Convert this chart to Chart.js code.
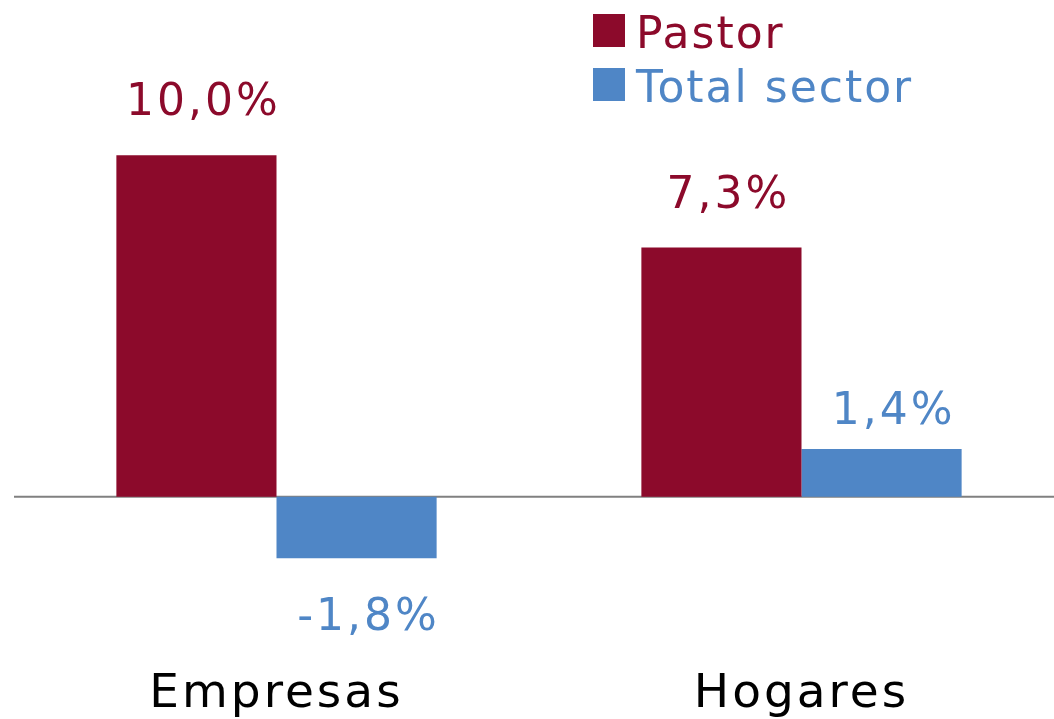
<!DOCTYPE html>
<html>
<head>
<meta charset="utf-8">
<script src="https://cdn.jsdelivr.net/npm/chart.js@4/dist/chart.umd.min.js"></script>
<style>
  html, body { margin: 0; padding: 0; background: #fff; overflow: hidden; }
  #wrap { position: relative; width: 1070px; height: 719px; }
</style>
</head>
<body>
<div id="wrap"><canvas id="myChart"></canvas></div>
<script>
const categories = ['Empresas', 'Hogares'];
const seriesNames = ['Pastor', 'Total sector'];
const pastorValues = [10.0, 7.3];
const totalValues = [-1.8, 1.4];

const colPastor = '#8C0A2B';
const colTotal = '#4F86C6';
const fontFam = '"DejaVu Sans", Verdana, sans-serif';

function fmt(v) {
  return v.toFixed(1).replace('.', ',') + '%';
}

// zero line + value labels + legend
const extras = {
  id: 'extras',
  beforeDraw(chart) {
    chart.ctx.letterSpacing = '3px';
  },
  beforeDatasetsDraw(chart) {
    const { ctx, chartArea, scales } = chart;
    const y0 = scales.y.getPixelForValue(0);
    ctx.save();
    ctx.strokeStyle = '#808080';
    ctx.lineWidth = 2;
    ctx.beginPath();
    ctx.moveTo(14, y0);
    ctx.lineTo(chartArea.right, y0);
    ctx.stroke();
    ctx.restore();
  },
  afterDatasetsDraw(chart) {
    const { ctx } = chart;
    ctx.save();
    ctx.letterSpacing = '3px';
    ctx.font = '44px ' + fontFam;
    ctx.textAlign = 'center';
    ctx.textBaseline = 'alphabetic';
    chart.data.datasets.forEach((ds, i) => {
      const meta = chart.getDatasetMeta(i);
      meta.data.forEach((bar, j) => {
        const v = ds.data[j];
        ctx.fillStyle = ds.backgroundColor;
        if (v >= 0) {
          ctx.fillText(fmt(v), bar.x + (i === 0 ? 7 : 12), bar.y - (i === 0 ? 40 : 25));
        } else {
          ctx.fillText(fmt(v), bar.x + 12, bar.y + 72);
        }
      });
    });
    // legend
    ctx.letterSpacing = '2px';
    ctx.textAlign = 'left';
    ctx.textBaseline = 'alphabetic';
    chart.data.datasets.forEach((ds, i) => {
      const top = 14 + i * 54;
      ctx.fillStyle = ds.backgroundColor;
      ctx.fillRect(593, top, 32, 33);
      ctx.fillText(ds.label, 636, top + 34);
    });
    ctx.restore();
  }
};

new Chart(document.getElementById('myChart'), {
  type: 'bar',
  data: {
    labels: categories,
    datasets: [
      { label: seriesNames[0], data: pastorValues, backgroundColor: colPastor },
      { label: seriesNames[1], data: totalValues, backgroundColor: colTotal }
    ]
  },
  options: {
    responsive: true,
    maintainAspectRatio: false,
    animation: false,
    layout: { padding: { left: 14, right: 6, top: 0, bottom: -14 } },
    datasets: { bar: { categoryPercentage: 0.61, barPercentage: 1.0 } },
    plugins: { legend: { display: false }, tooltip: { enabled: false } },
    scales: {
      x: {
        grid: { display: false, drawTicks: false },
        border: { display: false },
        ticks: { color: '#000', font: { family: fontFam, size: 47, lineHeight: 1.2 }, padding: 10 }
      },
      y: {
        display: false,
        min: -4.68,
        max: 14.55
      }
    }
  },
  plugins: [extras]
});
</script>
</body>
</html>
